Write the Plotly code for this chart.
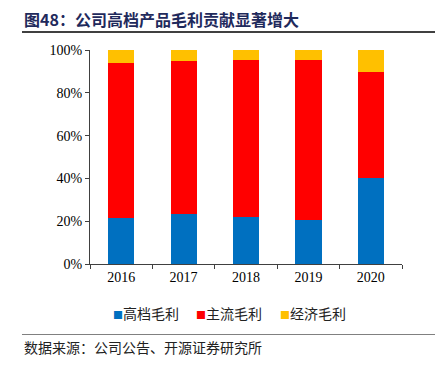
import plotly.graph_objects as go

years = ["2016", "2017", "2018", "2019", "2020"]
high_end = [21.4, 23.2, 21.8, 20.6, 40.0]
mainstream = [72.7, 71.7, 73.5, 74.6, 49.7]
economy = [5.9, 5.1, 4.7, 4.8, 10.3]
series_names = ["高档毛利", "主流毛利", "经济毛利"]
colors = ["#0070C0", "#FF0000", "#FFC000"]
y_tick_vals = [0, 20, 40, 60, 80, 100]
y_tick_text = ["0%", "20%", "40%", "60%", "80%", "100%"]

fig = go.Figure()
for name, vals, c in zip(series_names, [high_end, mainstream, economy], colors):
    fig.add_trace(go.Bar(
        x=years, y=vals, name=name, marker=dict(color=c, line=dict(width=0)),
        width=0.42, showlegend=False,
    ))

serif = "Times New Roman, Liberation Serif, serif"
cjk = "Noto Sans CJK SC, sans-serif"

# page body has an 8px margin, so the figure is drawn 8px smaller
fig.update_layout(
    barmode="stack",
    width=435, height=361,
    margin=dict(l=82, r=41, t=42, b=105),
    plot_bgcolor="white", paper_bgcolor="white",
    xaxis=dict(
        type="category", showline=True, linecolor="#404040", linewidth=1,
        ticks="outside", tickson="boundaries", ticklen=4, tickcolor="#404040",
        tickfont=dict(family=serif, size=14, color="#000000"),
        showgrid=False, range=[-0.5, 4.5],
    ),
    yaxis=dict(
        range=[0, 100], tickvals=y_tick_vals, ticktext=y_tick_text,
        showline=True, linecolor="#404040", linewidth=1,
        ticks="outside", ticklen=4, tickcolor="#404040",
        tickfont=dict(family=serif, size=14, color="#000000"),
        showgrid=False, zeroline=False,
    ),
)

# legend built as text entries
legend_x = [0.067, 0.333, 0.603]
for name, c, lx in zip(series_names, colors, legend_x):
    fig.add_annotation(
        text=f"<span style='color:{c};font-size:10px'>■</span>{name}",
        xref="paper", yref="paper", x=lx, y=-48.7 / 214,
        xanchor="left", yanchor="middle", showarrow=False,
        font=dict(family=cjk, size=14, color="#222222"),
    )

fig.add_annotation(
    text="<b>图48：公司高档产品毛利贡献显著增大</b>",
    xref="paper", yref="paper", x=-0.218, y=1.0, xanchor="left", yanchor="middle",
    yshift=31, showarrow=False,
    font=dict(family=cjk, size=16, color="#1F2A5C"),
)
fig.add_annotation(
    text="数据来源：公司公告、开源证券研究所",
    xref="paper", yref="paper", x=-0.218, y=0, xanchor="left", yanchor="middle",
    yshift=-83, showarrow=False,
    font=dict(family=cjk, size=14, color="#222222"),
)
fig.add_shape(type="line", xref="paper", yref="paper", x0=-0.218, x1=1.106,
              y0=1 + 18 / 214, y1=1 + 18 / 214, line=dict(color="#000000", width=1.5))
fig.add_shape(type="line", xref="paper", yref="paper", x0=-0.218, x1=1.106,
              y0=-70.5 / 214, y1=-70.5 / 214, line=dict(color="#808080", width=1.2))

fig.write_html("out.html")
